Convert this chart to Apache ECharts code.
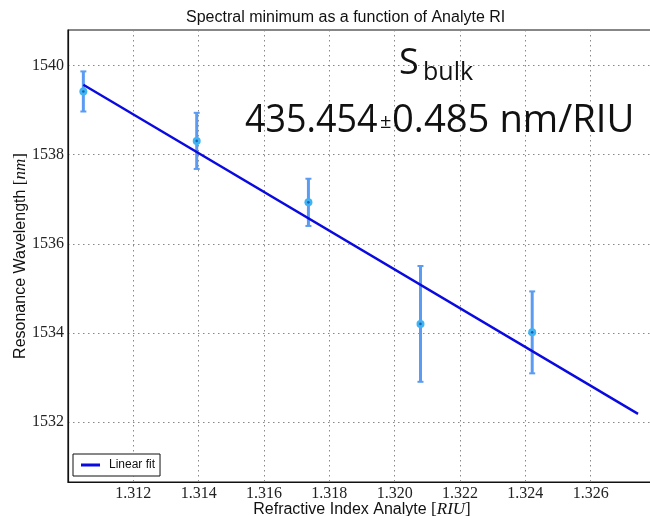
<!DOCTYPE html>
<html>
<head>
<meta charset="utf-8">
<script src="https://cdn.jsdelivr.net/npm/echarts@6/dist/echarts.min.js"></script>
<style>html,body{margin:0;padding:0;background:#fff}#c{width:650px;height:516px}</style>
</head>
<body>
<div id="c"></div>
<script>
var riu = [1.31047, 1.31394, 1.31736, 1.32079, 1.32421];
var wavelength = [1539.42, 1538.31, 1536.93, 1534.20, 1534.01];
var wavelengthErr = [0.45, 0.63, 0.53, 1.30, 0.92];
var fitX = [1.31047, 1.32745];
var fitY = [1539.57, 1532.18];
var yTicks = [1532, 1534, 1536, 1538, 1540];

var chart = echarts.init(document.getElementById('c'), null, {renderer: 'canvas'});

var errData = riu.map(function (x, i) { return [x, wavelength[i], wavelengthErr[i]]; });
var fitData = fitX.map(function (x, i) { return [x, fitY[i]]; });

var SANS = 'Liberation Sans, Arial, sans-serif';
var SERIF = 'Liberation Serif, Times New Roman, serif';
var MYR = 'Open Sans, Noto Sans, sans-serif';

var option = {
  animation: false,
  backgroundColor: '#ffffff',
  title: {
    text: 'Spectral minimum as a function of Analyte RI',
    left: 186, top: 10, padding: 0,
    textStyle: {fontFamily: SANS, fontSize: 16, fontWeight: 'normal', color: '#111'}
  },
  legend: {
    data: ['Linear fit'],
    left: 73, top: 454,
    orient: 'vertical',
    padding: [5, 5, 5, 8],
    itemWidth: 19, itemHeight: 3, itemGap: 0,
    icon: 'rect',
    borderColor: '#111', borderWidth: 1, borderRadius: 0,
    backgroundColor: '#fff',
    textStyle: {fontFamily: SANS, fontSize: 12, color: '#111', padding: [0, 0, 0, 4]}
  },
  grid: {left: 68, top: 30, right: -6, bottom: 34, show: true, borderColor: '#111', borderWidth: 1.2,
    containLabel: false, outerBoundsMode: 'none'},
  xAxis: {
    type: 'value', min: 1.310, max: 1.328, interval: 0.002,
    name: '{a|Refractive Index Analyte }{c|[}{b|RIU}{c|]}',
    nameLocation: 'middle', nameGap: 19, nameMoveOverlap: false,
    nameTextStyle: {rich: {
      a: {fontFamily: SANS, fontSize: 16, color: '#111'},
      b: {fontFamily: SERIF, fontStyle: 'italic', fontSize: 17, color: '#111'},
      c: {fontFamily: SERIF, fontSize: 17, color: '#111'}
    }},
    axisLine: {show: true, onZero: false, lineStyle: {color: '#111', width: 1.2}},
    axisTick: {show: false},
    axisLabel: {showMinLabel: false, showMaxLabel: false, margin: 4, fontFamily: SERIF, fontSize: 16, color: '#222',
      formatter: function (v) { return v.toFixed(3); }},
    splitLine: {show: true, lineStyle: {color: '#888', type: [1.5, 3.5], width: 1}}
  },
  yAxis: {
    type: 'value', min: 1530.65, max: 1540.8,
    name: '{a|Resonance Wavelength }{c|[}{b|nm}{c|]}',
    nameLocation: 'middle', nameGap: 39, nameRotate: 90, nameMoveOverlap: false,
    nameTextStyle: {rich: {
      a: {fontFamily: SANS, fontSize: 16, color: '#111'},
      b: {fontFamily: SERIF, fontStyle: 'italic', fontSize: 17, color: '#111'},
      c: {fontFamily: SERIF, fontSize: 17, color: '#111'}
    }},
    axisLine: {show: true, onZero: false, lineStyle: {color: '#111', width: 1.2}},
    axisTick: {show: false, customValues: yTicks},
    axisLabel: {customValues: yTicks, margin: 4, fontFamily: SERIF, fontSize: 16, color: '#222',
      formatter: function (v) { return String(Math.round(v)); }},
    splitLine: {show: true, lineStyle: {color: '#888', type: [1.5, 3.5], width: 1}}
  },
  graphic: [
    {type: 'text', left: 399, top: 46, z: 50, style: {text: 'S', font: '36px ' + MYR, fill: '#111'}},
    {type: 'text', left: 423, top: 60, z: 50, style: {text: 'bulk', font: '25px ' + MYR, fill: '#111'}},
    {type: 'text', left: 245, top: 101, z: 50, scaleX: 0.92, style: {text: '435.454', font: '39px ' + MYR, fill: '#111'}},
    {type: 'text', left: 380, top: 112, z: 50, style: {text: '±', font: '20px ' + MYR, fill: '#111'}},
    {type: 'text', left: 392, top: 101, z: 50, scaleX: 0.98, style: {text: '0.485 nm/RIU', font: '39px ' + MYR, fill: '#111'}}
  ],
  series: [
    {
      name: 'Error',
      type: 'custom',
      z: 3,
      data: errData,
      renderItem: function (params, api) {
        var x = api.value(0), y = api.value(1), e = api.value(2);
        var top = api.coord([x, y + e]);
        var bot = api.coord([x, y - e]);
        var c = api.coord([x, y]);
        var bar = '#5b9cf2';
        return {type: 'group', children: [
          {type: 'line', shape: {x1: top[0], y1: top[1], x2: bot[0], y2: bot[1]}, style: {stroke: bar, lineWidth: 3}},
          {type: 'line', shape: {x1: top[0] - 3, y1: top[1], x2: top[0] + 3, y2: top[1]}, style: {stroke: bar, lineWidth: 2}},
          {type: 'line', shape: {x1: bot[0] - 3, y1: bot[1], x2: bot[0] + 3, y2: bot[1]}, style: {stroke: bar, lineWidth: 2}},
          {type: 'circle', shape: {cx: c[0], cy: c[1], r: 4}, style: {fill: '#3fb4f5'}},
          {type: 'circle', shape: {cx: c[0], cy: c[1], r: 1.3}, style: {fill: '#1d5fb0'}}
        ]};
      }
    },
    {
      name: 'Linear fit',
      type: 'line',
      z: 4,
      data: fitData,
      showSymbol: false,
      symbol: 'none',
      lineStyle: {color: '#0a0ae0', width: 2.4},
      itemStyle: {color: '#0a0ae0'}
    }
  ]
};
chart.setOption(option);
</script>
</body>
</html>
